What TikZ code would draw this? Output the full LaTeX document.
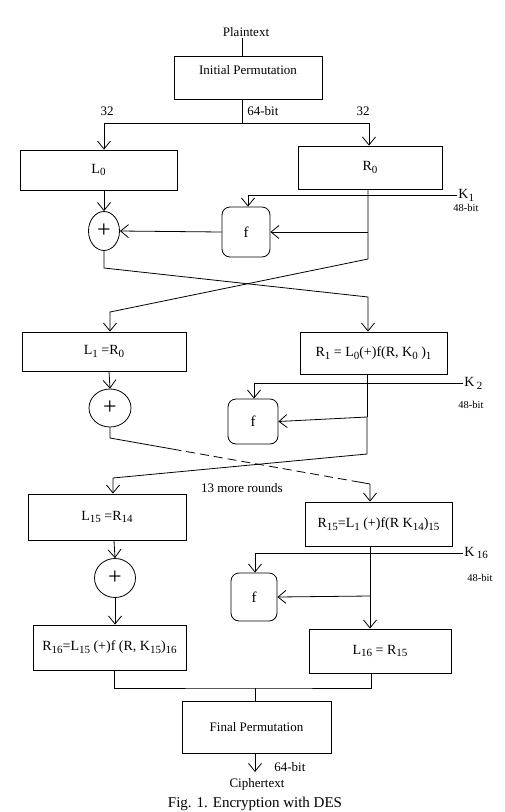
\documentclass[tikz,border=0pt]{standalone}
\usepackage{fontspec}
\setmainfont{Liberation Serif}
\usetikzlibrary{positioning, arrows.meta, shapes.geometric, calc}

\newcommand{\sbs}[1]{\raisebox{-0.45ex}{\fontsize{11}{11}\selectfont #1}}

\begin{document}
\begin{tikzpicture}[
		x=1pt, y=-1pt, line width=0.8pt,
		arr/.style={-{Straight Barb[length=8pt, width=13pt]}},
		blk/.style={draw, inner sep=0pt, font=\fontsize{14}{16}\selectfont},
		xorop/.style={draw, ellipse, inner sep=0pt, font=\fontsize{24}{24}\selectfont},
		fbox/.style={draw, rounded corners=8pt, inner sep=0pt, font=\fontsize{15}{17}\selectfont},
		lbl/.style={inner sep=1pt, font=\fontsize{13}{15}\selectfont},
		keylbl/.style={inner sep=1pt, font=\fontsize{14}{16}\selectfont},
		bitlbl/.style={inner sep=1pt, font=\fontsize{10.5}{12}\selectfont}
		]
		\useasboundingbox (0,0) rectangle (504,812);
		
		% Input and initial permutation
		\node[lbl] (plain) at (246,32) {Plaintext};
		\node[blk, font=\fontsize{13}{15}\selectfont, minimum width=148pt, text height=15pt, text depth=22pt, inner ysep=3pt] (ip) at (248,77.5) {Initial Permutation};
		\draw ([xshift=-4pt]plain.south) -- ([xshift=-4pt]plain.south |- ip.north);
		
		\coordinate (split) at (242,123);
		\draw (ip.south -| split) -- (split);
		\node[lbl, anchor=west] (bits64) at (246,111) {64-bit};
		\node[lbl] (lhalf) at (107,111) {32};
		\node[lbl] (rhalf) at (363,111) {32};
		
		% Round 1
		\node[blk, minimum width=157pt, minimum height=40pt] (l0) at (98.5,170) {L\sbs{0}};
		\node[blk, minimum width=144pt, minimum height=43pt] (r0) at (370,167.5) {R\sbs{0}};
		\draw[arr] (split) -| ([xshift=5.5pt]l0.north);
		\draw[arr] (split) -| ([xshift=-1pt]r0.north);
		
		\node[xorop, minimum width=31pt, minimum height=39pt] (xor1) at (104,231) {+};
		\node[fbox, minimum width=48pt, minimum height=50pt] (f1) at (246,232) {f};
		\node[keylbl, anchor=west] (k1) at (457,195) {K\sbs{1}};
		\node[bitlbl] (kb1) at (466,208) {48-bit};
		\coordinate (r0b) at (368,232);
		
		\draw[arr] ([xshift=5.5pt]l0.south) -- (xor1.north);
		\draw[arr] (k1.west) -| ([xshift=2pt]f1.north);
		\draw[arr] (r0b) -- (f1.east);
		\draw[arr] (f1.west) -- (xor1.east);
		
		% Swap of the halves
		\coordinate (c1a) at (368,259);
		\coordinate (c1b) at (110,312);
		\coordinate (c1c) at (104,268);
		\coordinate (c1d) at (368,297);
		
		% Round 2
		\node[blk, minimum width=164pt, minimum height=39pt] (l1) at (104,351.5) {L\sbs{1} =R\sbs{0}};
		\node[blk, minimum width=147pt, minimum height=42pt] (r1) at (373.5,353) {R\sbs{1} = L\sbs{0}(+)f(R, K\sbs{0} )\sbs{1}};
		\draw[arr] ([xshift=-2pt]r0.south) -- (c1a) -- (c1b) -- (c1b |- l1.north);
		\draw[arr] (xor1.south) -- (c1c) -- (c1d) -- (c1d |- r1.north);
		
		\node[xorop, minimum width=42pt, minimum height=38pt] (xor2) at (110,408) {+};
		\node[fbox, minimum width=50pt, minimum height=45pt] (f2) at (253,421.5) {f};
		\node[keylbl, anchor=west] (k2) at (463,383) {K\,\sbs{2}};
		\node[bitlbl] (kb2) at (471,405) {48-bit};
		\coordinate (r1b) at (367,417);
		
		\draw[arr] ([xshift=5pt]l1.south) -- (xor2.north);
		\draw[arr] (k2.west) -| ([xshift=1pt]f2.north);
		\draw ([xshift=-6.5pt]r1.south) -- (r1b);
		\draw[arr] (r1b) -- (f2.east);
		
		% The remaining rounds
		\coordinate (c2a) at (367,454);
		\coordinate (c2b) at (113,478);
		\coordinate (c2c) at (110,438);
		\coordinate (c2d) at (370,484);
		\node[lbl] (more) at (242,488) {13 more rounds};
		
		\node[blk, minimum width=158pt, minimum height=46pt] (l15) at (107,517) {L\sbs{15} =R\sbs{14}};
		\node[blk, minimum width=147pt, minimum height=44pt] (r15) at (378.5,524) {R\sbs{15}=L\sbs{1} (+)f(R K\sbs{14})\sbs{15}};
		\draw[arr] (r1b) -- (c2a) -- (c2b) -- (c2b |- l15.north);
		\draw (xor2.south) -- (c2c) -- ($(c2c)!0.24!(c2d)$);
		\draw[dashed, dash pattern=on 9pt off 5pt] ($(c2c)!0.24!(c2d)$) -- ($(c2c)!0.95!(c2d)$);
		\draw[arr] ($(c2c)!0.95!(c2d)$) -- (c2d) -- (c2d |- r15.north);
		
		% Round 16
		\node[xorop, minimum width=41pt, minimum height=39pt] (xor3) at (115,578) {+};
		\node[fbox, minimum width=46pt, minimum height=48pt] (f3) at (254,597) {f};
		\node[keylbl, anchor=west] (k16) at (463,553) {K\,\sbs{16}};
		\node[bitlbl] (kb16) at (480,578) {48-bit};
		\coordinate (r15b) at (370,596);
		
		\node[blk, minimum width=153pt, minimum height=45pt] (r16) at (109.5,647.5) {R\sbs{16}=L\sbs{15} (+)f (R, K\sbs{15})\sbs{16}};
		\node[blk, minimum width=142pt, minimum height=44pt] (l16) at (380,651) {L\sbs{16} = R\sbs{15}};
		
		\draw[arr] ([xshift=7pt]l15.south) -- (xor3.north);
		\draw[arr] (xor3.south) -- (xor3.south |- r16.north);
		\draw[arr] (k16.west) -| ([xshift=1pt]f3.north);
		\draw[arr] ([xshift=-8.5pt]r15.south) -- ([xshift=-10pt]l16.north);
		\draw[arr] (r15b) -- (f3.east);
		
		% Output and final permutation
		\coordinate (join) at (255,688);
		\node[blk, font=\fontsize{13}{15}\selectfont, minimum width=149pt, minimum height=52pt] (fp) at (256.5,727) {Final Permutation};
		\draw ([xshift=4.5pt]r16.south) |- (join) -| ([xshift=-9pt]l16.south);
		\draw (join) -- (join |- fp.north);
		
		\coordinate (ct) at (255,772);
		\draw[arr] (fp.south -| ct) -- (ct);
		\node[lbl, anchor=west] (bits64b) at (273,767) {64-bit};
		\node[lbl] (cipher) at (257,784) {Ciphertext};
		
		\node[inner sep=1pt, font=\fontsize{15}{17}\selectfont] (cap) at (255,804) {Fig. 1. Encryption with DES};
		
	\end{tikzpicture}
\end{document}
